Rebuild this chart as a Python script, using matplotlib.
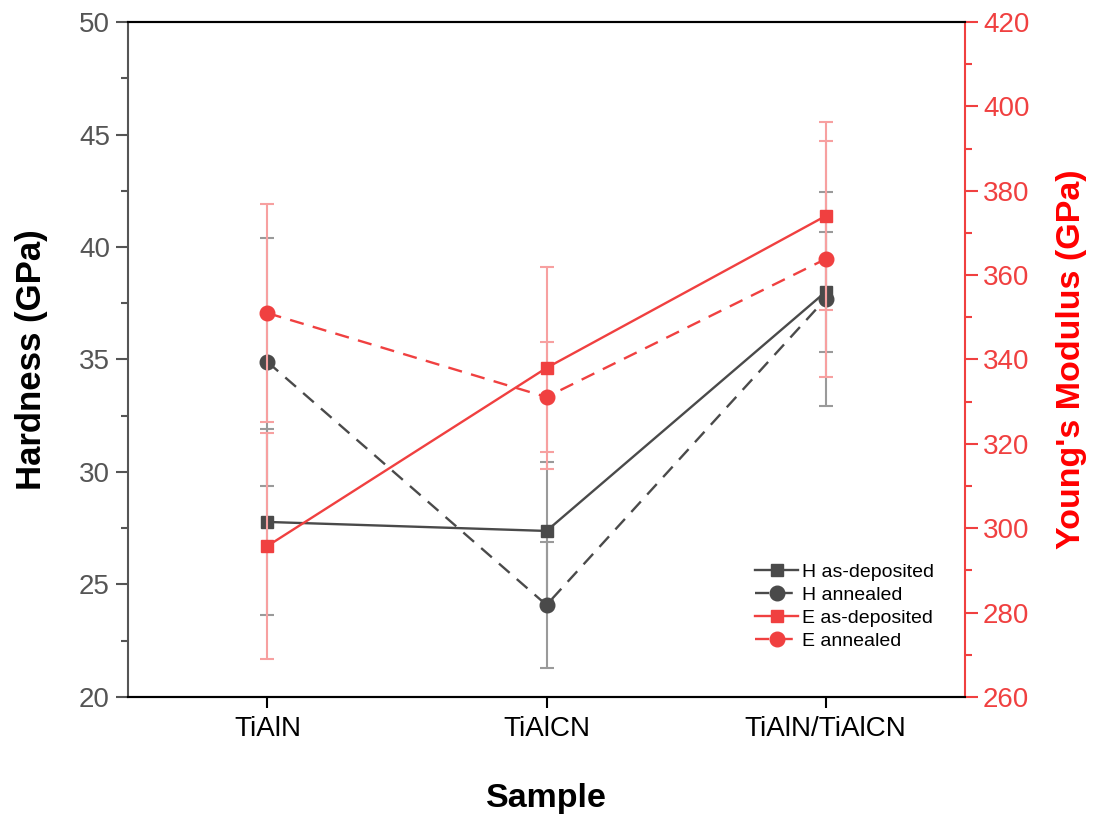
import numpy as np
import matplotlib.pyplot as plt

plt.rcParams['font.family'] = ['Liberation Sans', 'DejaVu Sans']

samples = ['TiAlN', 'TiAlCN', 'TiAlN/TiAlCN']

# hardness (GPa)
h_dep = [27.78, 27.38, 38.0]
h_dep_err = [4.15, 3.07, 2.67]
h_ann = [34.89, 24.09, 37.69]
h_ann_err = [5.5, 2.8, 4.76]

# Young's modulus (GPa)
e_dep = [295.8, 338.0, 374.0]
e_dep_err = [26.8, 24.0, 22.3]
e_ann = [351.0, 331.1, 363.8]
e_ann_err = [25.8, 13.0, 28.0]

gray = '#4a4a4a'
gray_err = '#9a9a9a'
red = '#f04040'
red_err = '#f7a0a0'

fig = plt.figure(figsize=(10.93, 8.15), dpi=100)
ax = fig.add_axes([0.1171, 0.1448, 0.7658, 0.8282])
ax2 = ax.twinx()

x = np.arange(len(samples))

# hardness
ax.errorbar(x, h_dep, yerr=h_dep_err, fmt='none', ecolor=gray_err, elinewidth=1.5, capsize=5, capthick=1.5)
ax.errorbar(x, h_ann, yerr=h_ann_err, fmt='none', ecolor=gray_err, elinewidth=1.5, capsize=5, capthick=1.5)
l1, = ax.plot(x, h_dep, '-', color=gray, lw=1.7, marker='s', ms=9, label='H as-deposited')
l2, = ax.plot(x, h_ann, '--', color=gray, lw=1.7, marker='o', ms=10.5, dashes=(6, 4), label='H annealed')

# modulus
ax2.errorbar(x, e_dep, yerr=e_dep_err, fmt='none', ecolor=red_err, elinewidth=1.5, capsize=5, capthick=1.5)
ax2.errorbar(x, e_ann, yerr=e_ann_err, fmt='none', ecolor=red_err, elinewidth=1.5, capsize=5, capthick=1.5)
l3, = ax2.plot(x, e_dep, '-', color=red, lw=1.7, marker='s', ms=9, label='E as-deposited')
l4, = ax2.plot(x, e_ann, '--', color=red, lw=1.7, marker='o', ms=10.5, dashes=(6, 4), label='E annealed')

ax.set_xlim(-0.5, 2.5)
ax.set_ylim(20, 50)
ax2.set_ylim(260, 420)
ax.set_xticks(x)
ax.set_xticklabels(samples)
ax.set_yticks(np.arange(20, 51, 5))
ax.set_yticks(np.arange(22.5, 50, 5), minor=True)
ax2.set_yticks(np.arange(260, 421, 20))
ax2.set_yticks(np.arange(270, 420, 20), minor=True)

ax.tick_params(axis='x', direction='out', length=8, width=1.5, labelsize=20, colors='black', pad=6)
ax.tick_params(axis='y', which='major', direction='out', length=9, width=1.5, labelsize=20,
               colors='#555555', pad=4)
ax.tick_params(axis='y', which='minor', direction='out', length=5, width=1.5, colors='#555555')
ax2.tick_params(axis='y', which='major', direction='out', length=9, width=1.5, labelsize=20,
                colors=red, pad=4)
ax2.tick_params(axis='y', which='minor', direction='out', length=5, width=1.5, colors=red)

for a in (ax, ax2):
    for s in a.spines.values():
        s.set_linewidth(1.5)
ax.spines['left'].set_color('#555555')
ax2.spines['left'].set_visible(False)
ax2.spines['right'].set_color(red)
ax.spines['right'].set_visible(False)

ax.set_xlabel('Sample', fontsize=24.5, fontweight='bold', labelpad=29)
ax.set_ylabel('Hardness (GPa)', fontsize=25, fontweight='bold', labelpad=22)
ax2.set_ylabel("Young's Modulus (GPa)", fontsize=24.5, fontweight='bold', color='#ff0000', labelpad=19)

ax2.legend(handles=[l1, l2, l3, l4], loc='lower left', bbox_to_anchor=(0.74, 0.058),
           frameon=False, fontsize=14, handlelength=2.2, handletextpad=0.2,
           labelspacing=0.28, borderaxespad=0)

fig.savefig('out.png', dpi=100)
